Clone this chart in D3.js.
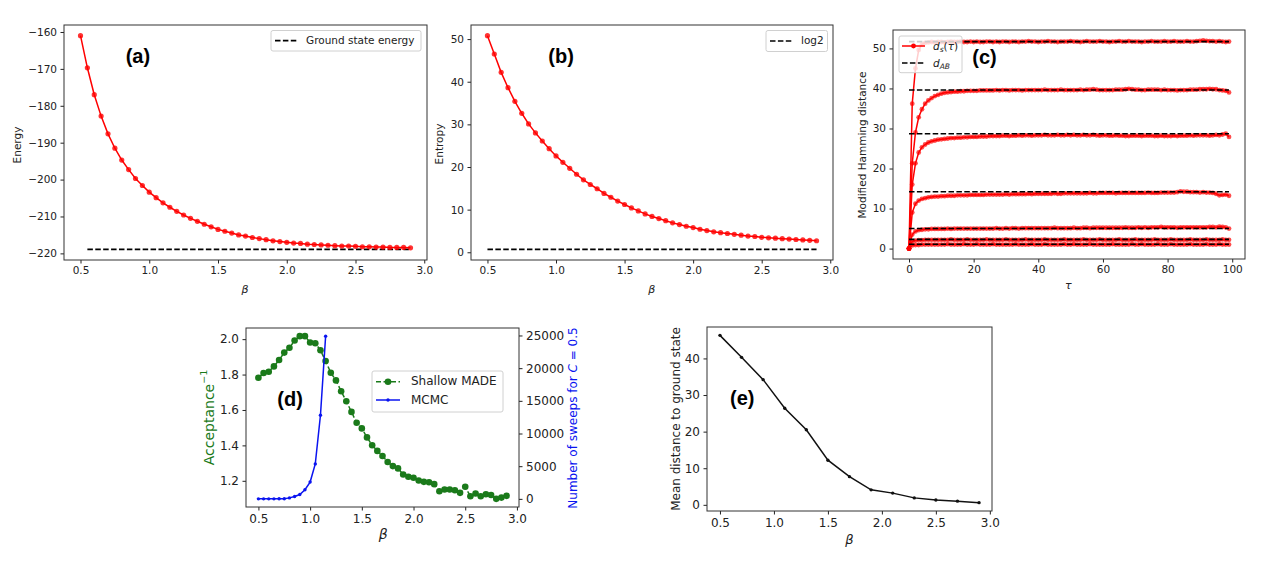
<!DOCTYPE html>
<html>
<meta charset="utf-8">
<head>
<script src="https://cdnjs.cloudflare.com/ajax/libs/d3/7.8.5/d3.min.js"></script>
</head>
<style>
body { margin: 0; background: #fff; }
text { font-family: "DejaVu Sans", sans-serif; fill: #222; }
.frame { fill: none; stroke: #333; stroke-width: 1; }
.tag { font-family: "Liberation Sans", Arial, sans-serif; font-weight: bold; font-size: 20px; fill: #000; }
.lab { font-size: 10.5px; }
</style>
<body>
<svg id="canvas" width="1265" height="563"></svg>
<script>
// ---- data ----
const betaFine = [0.5,0.55,0.6,0.65,0.7,0.75,0.8,0.85,0.9,0.95,
                  1.0,1.05,1.1,1.15,1.2,1.25,1.3,1.35,1.4,1.45,
                  1.5,1.55,1.6,1.65,1.7,1.75,1.8,1.85,1.9,1.95,
                  2.0,2.05,2.1,2.15,2.2,2.25,2.3,2.35,2.4,2.45,
                  2.5,2.55,2.6,2.65,2.7,2.75,2.8,2.85,2.9];
const energy = [-161.0,-169.7,-177.0,-182.8,-187.6,-191.5,-194.7,-197.3,-199.7,-201.6,
                -203.4,-204.9,-206.3,-207.5,-208.6,-209.6,-210.5,-211.3,-212.1,-212.8,
                -213.5,-214.0,-214.5,-215.0,-215.3,-215.7,-216.0,-216.3,-216.6,-216.8,
                -217.0,-217.2,-217.3,-217.5,-217.6,-217.7,-217.8,-217.9,-218.0,-218.0,
                -218.1,-218.2,-218.2,-218.3,-218.3,-218.4,-218.4,-218.4,-218.5];
const groundEnergy = -218.9;
const groundBeta = [0.55, 2.9];
const entropy = [50.8,46.5,42.2,38.6,35.4,32.6,30.1,28.0,26.1,24.3,
                 22.6,21.1,19.7,18.3,17.0,15.9,14.9,13.8,12.9,12.0,
                 11.2,10.4,9.7,9.0,8.4,7.9,7.4,6.9,6.5,6.1,
                 5.8,5.4,5.1,4.8,4.6,4.4,4.2,4.0,3.8,3.7,
                 3.5,3.4,3.3,3.2,3.1,3.0,2.9,2.8,2.7];
const log2 = Math.log(2);
const acceptInv = [1.782,1.809,1.816,1.846,1.882,1.924,1.951,1.992,2.017,2.017,
                   1.981,1.977,1.937,1.877,1.810,1.767,1.706,1.649,1.589,1.528,
                   1.496,1.445,1.401,1.369,1.340,1.306,1.283,1.270,1.236,1.223,
                   1.217,1.202,1.194,1.192,1.181,1.141,1.151,1.151,1.147,1.132,
                   1.166,1.113,1.128,1.113,1.124,1.120,1.098,1.105,1.115];
const betaMCMC = [0.5,0.55,0.6,0.65,0.7,0.75,0.8,0.85,0.9,0.95,1.0,1.05,1.1,1.15];
const sweeps = [0,0,0,0,10,20,150,360,670,1390,2570,5350,12800,24900];
const betaCoarse = [0.5,0.7,0.9,1.1,1.3,1.5,1.7,1.9,2.1,2.3,2.5,2.7,2.9];
const meanDist = [46.3,40.3,34.2,26.4,20.5,12.2,7.7,4.1,3.2,1.9,1.3,1.0,0.6];

const tau = [0,1,2,3,4,5,6,7,8,9,10,11,12,13,14,15,16,17,18,19,
             20,21,22,23,24,25,26,27,28,29,30,31,32,33,34,35,36,37,38,39,
             40,41,42,43,44,45,46,47,48,49,50,51,52,53,54,55,56,57,58,59,
             60,61,62,63,64,65,66,67,68,69,70,71,72,73,74,75,76,77,78,79,
             80,81,82,83,84,85,86,87,88,89,90,91,92,93,94,95,96,97,98,99];
const dAB = [51.7, 39.6, 28.7, 14.2, 5.0, 2.3, 1.1];
const ds1 = [0,36.2,45.0,49.6,51.0,51.4,51.5,51.6,51.5,51.6,
             51.6,51.5,51.6,51.7,51.6,51.6,51.7,51.6,51.6,51.7,
             51.6,51.7,51.6,51.6,51.7,51.7,51.6,51.7,51.6,51.7,
             51.7,51.6,51.7,51.7,51.6,51.7,51.7,51.8,51.7,51.7,
             51.6,51.7,51.7,51.8,51.7,51.7,51.6,51.7,51.7,51.7,
             51.8,51.7,51.7,51.6,51.7,51.8,51.7,51.7,51.7,51.8,
             51.7,51.7,51.6,51.7,51.7,51.8,51.7,51.7,51.8,51.7,
             51.7,51.7,51.6,51.7,51.7,51.8,51.7,51.7,51.7,51.8,
             51.7,51.7,51.8,51.7,51.7,51.7,51.8,51.7,51.7,51.8,
             51.9,52.0,51.9,51.8,51.8,51.7,51.8,51.7,51.6,51.7];
const ds2 = [0,21.3,29.0,32.8,34.8,36.2,37.0,37.6,38.1,38.4,
             38.7,38.9,39.0,39.1,39.2,39.2,39.3,39.3,39.4,39.4,
             39.4,39.4,39.5,39.5,39.5,39.5,39.5,39.6,39.5,39.6,
             39.6,39.5,39.6,39.6,39.6,39.5,39.6,39.6,39.6,39.6,
             39.6,39.6,39.7,39.6,39.6,39.6,39.6,39.7,39.6,39.6,
             39.6,39.6,39.6,39.7,39.6,39.7,39.7,39.8,39.7,39.6,
             39.6,39.6,39.6,39.6,39.7,39.7,39.7,39.8,39.9,39.8,
             39.7,39.7,39.6,39.6,39.7,39.7,39.7,39.7,39.6,39.7,
             39.6,39.6,39.6,39.5,39.6,39.6,39.6,39.7,39.7,39.7,
             39.8,39.8,39.8,39.9,39.8,39.8,39.6,39.5,39.4,39.0];
const ds3 = [0,16.0,21.3,24.0,25.3,26.0,26.5,26.8,27.0,27.2,
             27.3,27.4,27.5,27.6,27.6,27.7,27.7,27.8,27.8,27.9,
             27.9,27.9,28.0,28.0,28.0,28.1,28.1,28.1,28.1,28.2,
             28.2,28.1,28.2,28.2,28.3,28.2,28.3,28.3,28.2,28.3,
             28.3,28.3,28.4,28.3,28.3,28.3,28.4,28.3,28.3,28.4,
             28.3,28.4,28.3,28.3,28.4,28.3,28.3,28.4,28.3,28.2,
             28.3,28.3,28.2,28.2,28.3,28.2,28.2,28.1,28.1,28.2,
             28.2,28.2,28.1,28.2,28.2,28.2,28.1,28.1,28.2,28.1,
             28.1,28.1,28.2,28.1,28.2,28.2,28.2,28.3,28.2,28.3,
             28.3,28.3,28.3,28.2,28.3,28.4,28.3,28.5,28.7,27.9];
const ds4 = [0,9.0,11.2,12.0,12.4,12.6,12.8,12.9,13.0,13.0,
             13.1,13.1,13.2,13.2,13.2,13.3,13.3,13.3,13.3,13.4,
             13.4,13.4,13.4,13.4,13.5,13.5,13.5,13.5,13.5,13.5,
             13.6,13.5,13.6,13.6,13.6,13.6,13.6,13.7,13.6,13.7,
             13.7,13.7,13.7,13.7,13.7,13.8,13.7,13.7,13.8,13.8,
             13.8,13.8,13.8,13.8,13.8,13.8,13.9,13.8,13.8,13.9,
             13.9,13.9,13.9,13.9,13.8,13.9,13.9,13.9,13.9,13.9,
             13.9,13.9,13.9,13.9,14.0,13.9,13.9,13.9,14.0,14.0,
             14.0,14.0,14.0,14.1,14.3,14.2,14.2,14.1,14.1,14.1,
             14.0,14.1,14.0,14.0,13.9,13.7,13.3,13.4,13.5,13.2];
const ds5 = [0,3.5,4.3,4.6,4.7,4.8,4.8,4.9,4.9,4.9,
             4.9,4.9,5.0,4.9,5.0,5.0,5.0,5.0,5.0,5.0,
             5.0,5.0,5.0,5.0,5.0,5.0,5.0,5.1,5.0,5.0,
             5.1,5.0,5.1,5.1,5.0,5.1,5.1,5.1,5.1,5.1,
             5.1,5.1,5.1,5.1,5.1,5.2,5.1,5.1,5.1,5.1,
             5.1,5.2,5.1,5.1,5.2,5.2,5.1,5.2,5.2,5.2,
             5.2,5.2,5.2,5.2,5.2,5.2,5.2,5.3,5.2,5.2,
             5.2,5.3,5.2,5.3,5.2,5.3,5.3,5.3,5.4,5.3,
             5.3,5.3,5.3,5.2,5.3,5.3,5.3,5.3,5.3,5.3,
             5.3,5.3,5.3,5.4,5.4,5.3,5.5,5.4,5.3,5.0];
const ds6 = [0,1.8,2.0,2.1,2.1,2.2,2.2,2.2,2.2,2.2,
             2.2,2.2,2.2,2.3,2.2,2.2,2.2,2.2,2.3,2.2,
             2.2,2.2,2.2,2.2,2.3,2.2,2.2,2.2,2.2,2.2,
             2.3,2.2,2.2,2.2,2.2,2.2,2.3,2.2,2.2,2.2,
             2.2,2.2,2.3,2.2,2.2,2.2,2.2,2.2,2.3,2.2,
             2.2,2.2,2.2,2.2,2.3,2.2,2.2,2.2,2.2,2.3,
             2.2,2.2,2.2,2.2,2.2,2.3,2.2,2.2,2.2,2.2,
             2.3,2.2,2.2,2.2,2.2,2.2,2.3,2.2,2.2,2.2,
             2.2,2.3,2.2,2.2,2.2,2.2,2.2,2.3,2.2,2.2,
             2.2,2.2,2.3,2.2,2.2,2.2,2.2,2.3,2.2,2.2];
const ds7 = [0,0.8,0.9,0.9,1.0,1.0,1.0,1.0,1.0,1.0,
             1.0,1.0,1.1,1.0,1.0,1.0,1.0,1.1,1.0,1.0,
             1.0,1.1,1.0,1.0,1.0,1.0,1.1,1.0,1.0,1.0,
             1.0,1.0,1.0,1.1,1.0,1.0,1.0,1.0,1.1,1.0,
             1.0,1.0,1.1,1.0,1.0,1.0,1.0,1.0,1.1,1.0,
             1.0,1.1,1.0,1.0,1.0,1.0,1.1,1.0,1.0,1.0,
             1.0,1.0,1.0,1.1,1.0,1.0,1.0,1.0,1.0,1.1,
             1.0,1.0,1.1,1.0,1.0,1.0,1.0,1.1,1.0,1.0,
             1.0,1.1,1.0,1.0,1.0,1.0,1.0,1.1,1.0,1.0,
             1.0,1.0,1.1,1.0,1.0,1.0,1.1,1.0,1.0,1.0];
const dsAll = [ds1, ds2, ds3, ds4, ds5, ds6, ds7];

const betaTicks = [0.5, 1.0, 1.5, 2.0, 2.5, 3.0];
const energyTicks = [-220, -210, -200, -190, -180, -170, -160];
const entropyTicks = [0, 10, 20, 30, 40, 50];
const tauTicks = [0, 20, 40, 60, 80, 100];
const hammingTicks = [0, 10, 20, 30, 40, 50];
const acceptTicks = [1.2, 1.4, 1.6, 1.8, 2.0];
const sweepTicks = [0, 5000, 10000, 15000, 20000, 25000];
const distTicks = [0, 10, 20, 30, 40];

// ---- helpers ----
const svg = d3.select("#canvas");
const f1 = d3.format(".1f");
const fd = d3.format("d");

// matplotlib style 5% margins
function pad(ext) { const d = (ext[1] - ext[0]) * 0.05; return [ext[0] - d, ext[1] + d]; }

function makePanel(box, xDom, yDom, xTicks, yTicks, xFmt, yFmt, fs) {
  const x = d3.scaleLinear().domain(xDom).range([box.l, box.r]);
  const y = d3.scaleLinear().domain(yDom).range([box.b, box.t]);
  const g = svg.append("g");
  g.append("g").attr("transform", `translate(0,${box.b})`)
    .call(d3.axisBottom(x).tickValues(xTicks).tickFormat(xFmt).tickSize(3.5).tickPadding(3.5))
    .call(a => a.select(".domain").remove())
    .attr("font-family", "DejaVu Sans").attr("font-size", fs).attr("color", "#222");
  g.append("g").attr("transform", `translate(${box.l},0)`)
    .call(d3.axisLeft(y).tickValues(yTicks).tickFormat(yFmt).tickSize(3.5).tickPadding(3.5))
    .call(a => a.select(".domain").remove())
    .attr("font-family", "DejaVu Sans").attr("font-size", fs).attr("color", "#222");
  const data = g.append("g");
  g.append("rect").attr("class", "frame")
    .attr("x", box.l).attr("y", box.t).attr("width", box.r - box.l).attr("height", box.b - box.t);
  return { g, data, x, y, box };
}

function series(p, xs, ys, o, ysc) {
  const ys2 = ysc || p.y;
  const pts = xs.map((v, i) => [v, ys[i]]);
  p.data.append("path").datum(pts)
    .attr("d", d3.line().x(d => p.x(d[0])).y(d => ys2(d[1])))
    .attr("fill", "none").attr("stroke", o.color).attr("stroke-width", o.width || 1.5)
    .attr("stroke-dasharray", o.dash || null);
  if (o.r) {
    p.data.append("g").selectAll("circle").data(pts).join("circle")
      .attr("cx", d => p.x(d[0])).attr("cy", d => ys2(d[1])).attr("r", o.r)
      .attr("fill", o.color).attr("fill-opacity", o.mop || 1);
  }
}

function yLabel(x, y, txt, fs, color) {
  return svg.append("text").attr("transform", `translate(${x},${y}) rotate(-90)`)
    .attr("text-anchor", "middle").attr("dominant-baseline", "middle")
    .style("font-size", fs + "px").style("fill", color || "#222").text(txt);
}
function xLabel(x, y, txt, fs) {
  svg.append("text").attr("x", x).attr("y", y).attr("text-anchor", "middle")
    .attr("dominant-baseline", "middle").style("font-size", fs + "px")
    .style("font-style", "italic").text(txt);
}
function tag(x, y, txt) { svg.append("text").attr("class", "tag").attr("x", x).attr("y", y).text(txt); }

const dash = "5.5,2.4";

// ---- (a) energy ----
const pa = makePanel({ l: 64, r: 427, t: 25, b: 260 }, pad([0.5, 2.9]),
  pad([groundEnergy, d3.max(energy)]), betaTicks, energyTicks, f1, fd, 10.5);
series(pa, groundBeta, [groundEnergy, groundEnergy], { color: "#000", width: 1.7, dash: dash });
series(pa, betaFine, energy, { color: "#ff0000", width: 1.5, r: 2.6, mop: 0.8 });
let lg = svg.append("g");
lg.append("rect").attr("x", 271).attr("y", 30.5).attr("width", 150).attr("height", 20.5).attr("rx", 2)
  .attr("fill", "#fff").attr("stroke", "#d0d0d0");
lg.append("line").attr("x1", 275).attr("x2", 298).attr("y1", 40.7).attr("y2", 40.7)
  .attr("stroke", "#000").attr("stroke-width", 1.7).attr("stroke-dasharray", dash);
lg.append("text").attr("class", "lab").attr("x", 306).attr("y", 40.7).attr("dominant-baseline", "middle").text("Ground state energy");
tag(125.7, 63, "(a)");
yLabel(18.3, 145, "Energy", 10.5);
xLabel(245, 290, "β", 11);

// ---- (b) entropy ----
const pb = makePanel({ l: 471, r: 833, t: 25, b: 260 }, pad([0.5, 2.9]),
  pad([log2, d3.max(entropy)]), betaTicks, entropyTicks, f1, fd, 10.5);
series(pb, [0.5, 2.9], [log2, log2], { color: "#000", width: 1.7, dash: dash });
series(pb, betaFine, entropy, { color: "#ff0000", width: 1.5, r: 2.6, mop: 0.8 });
lg = svg.append("g");
lg.append("rect").attr("x", 766).attr("y", 30.5).attr("width", 61.5).attr("height", 21).attr("rx", 2)
  .attr("fill", "#fff").attr("stroke", "#d0d0d0");
lg.append("line").attr("x1", 770).attr("x2", 793).attr("y1", 41).attr("y2", 41)
  .attr("stroke", "#000").attr("stroke-width", 1.7).attr("stroke-dasharray", dash);
lg.append("text").attr("class", "lab").attr("x", 801).attr("y", 41).attr("dominant-baseline", "middle").text("log2");
tag(548.3, 63, "(b)");
yLabel(440, 144, "Entropy", 10.5);
xLabel(651.7, 290, "β", 11);

// ---- (c) Hamming distance ----
const pc = makePanel({ l: 893, r: 1245, t: 30, b: 259 }, pad([0, 99]),
  pad([0, d3.max(dsAll, s => d3.max(s))]), tauTicks, hammingTicks, fd, fd, 10.5);
dsAll.forEach(s => series(pc, tau, s, { color: "#ff0000", width: 1.5, r: 2.4, mop: 0.7 }));
dAB.forEach(v => series(pc, [0, 99], [v, v], { color: "#000", width: 1.6, dash: dash }));
lg = svg.append("g");
lg.append("rect").attr("x", 899).attr("y", 36).attr("width", 63).attr("height", 36.7).attr("rx", 2)
  .attr("fill", "#fff").attr("fill-opacity", 0.8).attr("stroke", "#d0d0d0");
lg.append("line").attr("x1", 902).attr("x2", 925).attr("y1", 46).attr("y2", 46)
  .attr("stroke", "#ff0000").attr("stroke-width", 1.5);
lg.append("circle").attr("cx", 913.5).attr("cy", 46).attr("r", 2.4).attr("fill", "#ff0000");
lg.append("line").attr("x1", 902).attr("x2", 925).attr("y1", 63).attr("y2", 63)
  .attr("stroke", "#000").attr("stroke-width", 1.6).attr("stroke-dasharray", dash);
let t = lg.append("text").attr("class", "lab").attr("x", 933).attr("y", 49.5);
t.append("tspan").style("font-style", "italic").text("d");
t.append("tspan").style("font-style", "italic").style("font-size", "7.5px").attr("dy", 2.5).text("s");
t.append("tspan").attr("dy", -2.5).text("(");
t.append("tspan").style("font-style", "italic").text("τ");
t.append("tspan").text(")");
t = lg.append("text").attr("class", "lab").attr("x", 933).attr("y", 66.5);
t.append("tspan").style("font-style", "italic").text("d");
t.append("tspan").style("font-style", "italic").style("font-size", "7.5px").attr("dy", 2.5).text("AB");
tag(972.3, 64, "(c)");
yLabel(862.7, 145, "Modified Hamming distance", 10.5);
xLabel(1068.3, 286, "τ", 11);

// ---- (d) acceptance vs MCMC ----
const pd = makePanel({ l: 246, r: 519, t: 328, b: 507 }, pad([0.5, 2.9]),
  pad(d3.extent(acceptInv)), betaTicks, acceptTicks, f1, f1, 12);
const yR = d3.scaleLinear().domain(pad([0, d3.max(sweeps)])).range([507, 328]);
pd.g.append("g").attr("transform", "translate(519,0)")
  .call(d3.axisRight(yR).tickValues(sweepTicks).tickFormat(fd).tickSize(3.5).tickPadding(3.5))
  .call(a => a.select(".domain").remove())
  .attr("font-family", "DejaVu Sans").attr("font-size", 12).attr("color", "#222");
series(pd, betaFine, acceptInv, { color: "#1a7a1a", width: 1.5, dash: "5,2.5", r: 3.3 });
series(pd, betaMCMC, sweeps, { color: "#0a14f0", width: 1.5, r: 1.7 }, yR);
lg = svg.append("g");
lg.append("rect").attr("x", 372).attr("y", 371).attr("width", 131).attr("height", 41).attr("rx", 2)
  .attr("fill", "#fff").attr("fill-opacity", 0.8).attr("stroke", "#d0d0d0");
lg.append("line").attr("x1", 376).attr("x2", 400).attr("y1", 381.7).attr("y2", 381.7)
  .attr("stroke", "#1a7a1a").attr("stroke-width", 1.5).attr("stroke-dasharray", "5,2.5");
lg.append("circle").attr("cx", 388).attr("cy", 381.7).attr("r", 3.3).attr("fill", "#1a7a1a");
lg.append("line").attr("x1", 376).attr("x2", 400).attr("y1", 400).attr("y2", 400)
  .attr("stroke", "#0a14f0").attr("stroke-width", 1.5);
lg.append("circle").attr("cx", 388).attr("cy", 400).attr("r", 1.7).attr("fill", "#0a14f0");
lg.append("text").attr("x", 411).attr("y", 381.7).attr("dominant-baseline", "middle").style("font-size", "12px").text("Shallow MADE");
lg.append("text").attr("x", 411).attr("y", 400).attr("dominant-baseline", "middle").style("font-size", "12px").text("MCMC");
tag(277.3, 406, "(d)");
t = yLabel(210, 417.5, "Acceptance", 14, "#1a7a1a");
t.append("tspan").attr("dy", -6).style("font-size", "9.5px").text("−1");
t = yLabel(573.3, 418, "Number of sweeps for ", 12, "#0a14f0");
t.append("tspan").style("font-style", "italic").text("C");
t.append("tspan").text(" = 0.5");
xLabel(383.3, 535, "β", 14);

// ---- (e) mean distance ----
const pe = makePanel({ l: 707, r: 992, t: 327, b: 511 }, pad([0.5, 2.9]),
  pad(d3.extent(meanDist)), betaTicks, distTicks, f1, fd, 12);
series(pe, betaCoarse, meanDist, { color: "#111", width: 1.5, r: 1.7 });
tag(730, 404.5, "(e)");
yLabel(676.7, 419, "Mean distance to ground state", 12);
xLabel(849.3, 540, "β", 13);
</script>
</body>
</html>
